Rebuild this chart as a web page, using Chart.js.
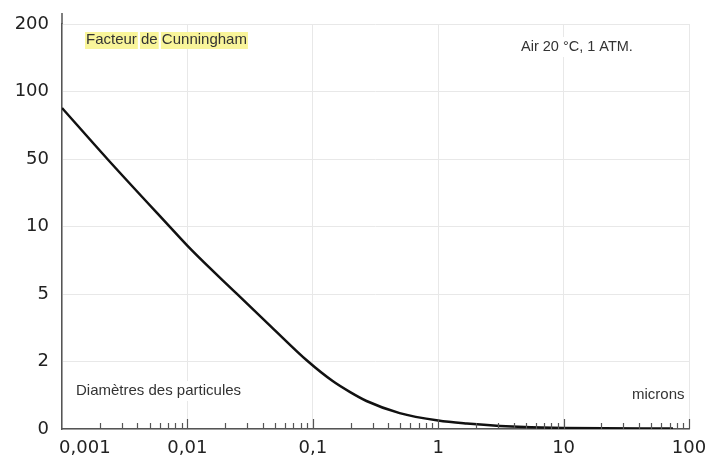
<!DOCTYPE html>
<html lang="fr">
<head>
<meta charset="utf-8">
<title>Facteur de Cunningham</title>
<script src="https://cdn.jsdelivr.net/npm/chart.js@4.4.0/dist/chart.umd.min.js"></script>
<style>
    html, body { margin: 0; padding: 0; background: #fff; }
    #wrap { width: 708px; height: 461px; position: relative; }
</style>
</head>
<body>
<div id="wrap"><canvas id="chart"></canvas></div>
<script>
// Diamètre des particules (microns) et facteur de Cunningham
const diametres = [0.001, 0.0023, 0.00692, 0.01077, 0.0246, 0.0469, 0.0908, 0.144, 0.197, 0.268, 0.493, 1, 1.69, 3.1, 10, 74.5];
const facteurs = [87.8, 50, 11.4, 8.26, 5.04, 3.53, 2.02, 1.42, 1.1, 0.83, 0.47, 0.25, 0.16, 0.09, 0.03, 0.015];

// Graduations des axes
const xTicks = [0.001, 0.01, 0.1, 1, 10, 100];
const xTickLabels = ['        0,001', '0,01', '0,1', '1', '10', '100'];
const yTickValues = [0, 2, 5, 10, 50, 100, 200];
const minorSteps = [2, 3, 4, 5, 6, 7, 8, 9];

// Position on the (non uniform) vertical scale: one step per graduation
function yPosition(v) {
    for (let i = 0; i < yTickValues.length - 1; i++) {
        const a = yTickValues[i], b = yTickValues[i + 1];
        if (v <= b) return i + (v - a) / (b - a);
    }
    return yTickValues.length - 1;
}

const axisColor = '#555';
const gridColor = '#e8e8e8';
const textColor = '#333';

// Small inner ticks on the x axis
const minorTicksPlugin = {
    id: 'minorTicks',
    afterDraw(chart) {
        const ctx = chart.ctx;
        const x = chart.scales.x;
        const area = chart.chartArea;
        const bottom = area.bottom;
        ctx.save();
        ctx.strokeStyle = axisColor;
        ctx.lineWidth = 1.2;
        xTicks.forEach((d, i) => {
            if (i > 0) {
                const px = Math.round(x.getPixelForValue(d)) + 0.5;
                ctx.beginPath();
                ctx.moveTo(px, bottom);
                ctx.lineTo(px, bottom - 10);
                ctx.stroke();
            }
            if (i < xTicks.length - 1) {
                minorSteps.forEach(m => {
                    const px = Math.round(x.getPixelForValue(d * m)) + 0.5;
                    ctx.beginPath();
                    ctx.moveTo(px, bottom);
                    ctx.lineTo(px, bottom - 6);
                    ctx.stroke();
                });
            }
        });
        // y axis goes a little above the top grid line
        ctx.lineWidth = 1.5;
        ctx.beginPath();
        ctx.moveTo(area.left, area.top);
        ctx.lineTo(area.left, area.top - 11);
        ctx.stroke();
        ctx.restore();
    }
};

// Texts placed in the plot
const annotationsPlugin = {
    id: 'annotations',
    beforeDatasetsDraw(chart) {
        const ctx = chart.ctx;
        ctx.save();
        ctx.textBaseline = 'middle';

        // Title with highlighted words
        ctx.font = '15px "Liberation Sans", Arial, sans-serif';
        let tx = 86;
        const ty = 40;
        const words = ['Facteur', 'de', 'Cunningham'];
        const space = ctx.measureText(' ').width;
        words.forEach(w => {
            const wd = ctx.measureText(w).width;
            ctx.fillStyle = '#f9f59a';
            ctx.fillRect(tx - 1, ty - 8, wd + 2, 17);
            ctx.fillStyle = textColor;
            ctx.fillText(w, tx, ty);
            tx += wd + space;
        });

        const boxed = (txt, x, y, size) => {
            ctx.font = size + 'px "Liberation Sans", Arial, sans-serif';
            const wd = ctx.measureText(txt).width;
            ctx.fillStyle = '#fff';
            ctx.fillRect(x - 3, y - 10, wd + 6, 20);
            ctx.fillStyle = textColor;
            ctx.fillText(txt, x, y);
        };
        boxed('Air 20 °C, 1 ATM.', 521, 47, 14.5);
        boxed('Diamètres des particules', 76, 391, 15);
        boxed('microns', 632, 395, 15);
        ctx.restore();
    }
};

const ctx = document.getElementById('chart').getContext('2d');
new Chart(ctx, {
    type: 'line',
    data: {
        datasets: [{
            data: diametres.map((d, i) => ({ x: d, y: yPosition(facteurs[i]) })),
            borderColor: '#111',
            borderWidth: 2.5,
            pointRadius: 0,
            cubicInterpolationMode: 'monotone',
            fill: false
        }]
    },
    options: {
        responsive: true,
        maintainAspectRatio: false,
        animation: false,
        layout: { padding: { left: 0, right: 19, top: 24, bottom: 0 } },
        plugins: {
            legend: { display: false },
            tooltip: { enabled: false }
        },
        scales: {
            x: {
                type: 'logarithmic',
                min: 0.001,
                max: 100,
                afterBuildTicks: scale => {
                    scale.ticks = xTicks.map(v => ({ value: v }));
                },
                afterFit: scale => {
                    scale.height = 32;
                    scale.paddingLeft = 0;
                    scale.paddingRight = 0;
                },
                ticks: {
                    autoSkip: false,
                    maxRotation: 0,
                    padding: 9,
                    color: '#222',
                    font: { family: '"DejaVu Sans", sans-serif', size: 18 },
                    callback: (value, index) => xTickLabels[index]
                },
                grid: { color: gridColor, lineWidth: 1, drawTicks: false },
                border: { color: axisColor, width: 1.5 }
            },
            y: {
                type: 'linear',
                min: 0,
                max: yTickValues.length - 1,
                afterBuildTicks: scale => {
                    scale.ticks = yTickValues.map((v, i) => ({ value: i }));
                },
                afterFit: scale => { scale.width = 62; },
                ticks: {
                    padding: 13,
                    color: '#222',
                    font: { family: '"DejaVu Sans", sans-serif', size: 18 },
                    callback: (value, index) => String(yTickValues[index])
                },
                grid: { color: gridColor, lineWidth: 1, drawTicks: false },
                border: { color: axisColor, width: 1.5 }
            }
        }
    },
    plugins: [annotationsPlugin, minorTicksPlugin]
});
</script>
</body>
</html>
